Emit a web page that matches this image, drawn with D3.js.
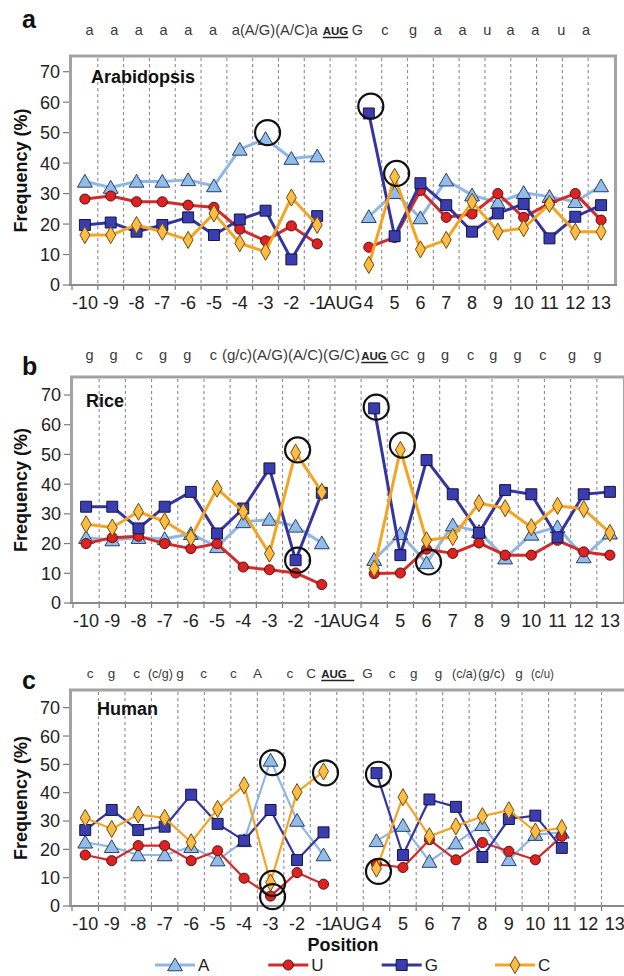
<!DOCTYPE html>
<html>
<head>
<meta charset="utf-8">
<script src="https://cdn.jsdelivr.net/npm/d3@7"></script>
<style>
  body { margin: 0; background: #fff; }
  svg { display: block; font-family: "Liberation Sans", Arial, sans-serif; }
</style>
</head>
<body>
<div id="chart"></div>
<script>
// positions on the x axis (AUG is an empty slot)
const categories = ["-10","-9","-8","-7","-6","-5","-4","-3","-2","-1","AUG","4","5","6","7","8","9","10","11","12","13"]
const yTicks = [0, 10, 20, 30, 40, 50, 60, 70]
const nucleotides = ["A", "U", "G", "C"]

// Arabidopsis
const arabA = [34, 32, 34, 34, 34.5, 32.5, 44.5, 48, 41.5, 42.3, null, 22.4, 30.3, 22, 34.4, 29.5, 27, 30.3, 29, 27.3, 32.5]
const arabU = [28.2, 29.2, 27.3, 27.3, 26.2, 25.5, 18.3, 14.5, 19.4, 13.5, null, 12.4, 15.6, 31, 22.2, 23.3, 30, 22.2, 26.8, 30, 21.3]
const arabG = [19.7, 20.5, 17.5, 19.7, 22.2, 16.4, 21.5, 24.4, 8.4, 22.6, null, 56.3, 16, 33.4, 26.2, 17.5, 23.5, 26.6, 15.3, 22.4, 26.2]
const arabC = [16.4, 16.4, 19.7, 17.5, 14.8, 23.5, 13.7, 10.9, 28.7, 19.7, null, 6.6, 35.5, 11.7, 14.8, 27.3, 17.5, 18.6, 26.6, 17.5, 17.5]
const arabRings = [["-3", 50], ["4", 58.7], ["5", 36.6]]
// consensus sequence above the panel: [token, slot]
const arabSeq = [["a",0],["a",1],["a",2],["a",3],["a",4],["a",5],["a(A/G)(A/C)a",7.5],["AUG",9.96],["G",10.85],["c",11.96],["g",13.1],["a",14.1],["a",15.1],["u",16.1],["a",17.05],["a",18.05],["u",19.1],["a",20.1]]

// Rice
const riceA = [22, 21.2, 22, 21.6, 23.3, 18.9, 27.3, 28.1, 25.8, 20.2, null, 14.6, 23.3, 13.5, 26.2, 24, 15.1, 23.1, 25.6, 15.5, 23.5]
const riceU = [20, 22, 22.5, 20, 18.3, 20, 12.1, 11.2, 10.1, 6.2, null, 9.9, 10.1, 18.1, 16.7, 20.2, 16.1, 16.1, 21.1, 17.2, 16.1]
const riceG = [32.4, 32.4, 25.1, 32.4, 37.4, 23.4, 31.8, 45.3, 14.4, 37.1, null, 65.5, 16.1, 48.1, 36.6, 23.6, 38, 36.6, 22.1, 36.6, 37.4]
const riceC = [26.5, 25.4, 30.7, 27.5, 22, 38.5, 30.7, 16.6, 50.6, 37.4, null, 11.6, 51.5, 21.1, 22.2, 33.6, 31.9, 25.5, 32.7, 31.6, 23.6]
const riceRings = [["-2", 51.5], ["-2", 14.4], ["4", 65.9], ["5", 53.1], ["6", 13.8]]
const riceSeq = [["g",0],["g",0.95],["c",1.95],["g",2.9],["g",3.85],["c",4.88],["(g/c)(A/G)(A/C)(G/C)",7.93],["AUG",11.2],["GC",12.22],["g",13.05],["g",14],["c",15],["g",15.9],["g",16.85],["c",17.85],["g",19],["g",20]]

// Human
const humanA = [22.5, 20.9, 18, 18, 20.9, 16.2, 23, 51.4, 30.2, 18, null, 23, 28.4, 15.7, 22.2, 28.7, 16.3, 25.2, 26, null, null]
const humanU = [18, 16, 21.3, 21.3, 16, 19.5, 9.8, 3.5, 11.8, 7.7, null, 14.8, 13.6, 23.4, 16.3, 22.4, 19.3, 16.3, 24.6, null, null]
const humanG = [26.8, 33.9, 26.8, 28, 39.3, 29, 23.1, 33.9, 16.2, 26, null, 46.9, 18, 37.6, 35, 17.3, 30.7, 31.9, 20.5, null, null]
const humanC = [31.1, 27.2, 32.3, 31.1, 22.5, 34.3, 42.6, 8.3, 40.2, 47.5, null, 13.2, 38.4, 24.6, 28.1, 31.7, 33.8, 26.3, 27.5, null, null]
const humanRings = [["-3", 50.6], ["-3", 8], ["-3", 3.3], ["-1", 47], ["4", 46.5], ["4", 12.2]]
const humanSeq = [["c",0],["g",0.86],["c",1.87],["(c/g)",2.83],["g",3.61],["c",4.56],["c",5.76],["A",6.73],["c",8.03],["C",8.88],["AUG",9.8],["G",11.14],["c",12.13],["g",13],["g",14],["(c/a)",15.04],["(g/c)",16.12],["g",17.23],["(c/u)",18.17]]

const w = 624
const h = 976

// series styling
const seriesStyle = {
	A: { line: "#8fb6e4", fill: "#93bde8", stroke: "#23406a", shape: d3.symbolTriangle, size: 95 },
	U: { line: "#d22b2b", fill: "#dd2222", stroke: "#5a1010", shape: d3.symbolCircle, size: 80 },
	G: { line: "#35359f", fill: "#3a3db0", stroke: "#15153f", shape: d3.symbolSquare, size: 120 },
	C: { line: "#f4a422", fill: "#fbbd45", stroke: "#6b4a0c", shape: d3.symbolDiamond, size: 85 },
}

// rendered widths of the wider sequence tokens, so they fit like the original
const seqWidths = {
	"a(A/G)(A/C)a": 86,
	"(g/c)(A/G)(A/C)(G/C)": 138,
	"(c/g)": 25,
	"(c/a)": 25,
	"(g/c)": 27,
	"(c/u)": 23,
}
// the start codon and the GC after it are set smaller
const seqSizes = { AUG: 11.5, GC: 12.5 }
const augWidth = 25.5

const panels = [
	{ letter: "a", name: "Arabidopsis", series: [arabA, arabU, arabG, arabC], rings: arabRings, seq: arabSeq,
	  x0: 72, x1: 614, yTop: 71.7, yBottom: 285, frameTop: 56, seqY: 35, seqX: [89.5, 583.5], seqSize: 14.5,
	  augLine: 25.5, letterY: 28, nameX: 91, nameY: 83, lw: 3 },
	{ letter: "b", name: "Rice", series: [riceA, riceU, riceG, riceC], rings: riceRings, seq: riceSeq,
	  x0: 73, x1: 623, yTop: 395, yBottom: 603, frameTop: 377, seqY: 360, seqX: [89.5, 597.5], seqSize: 14.5,
	  augLine: 27, letterY: 375, nameX: 86, nameY: 407, lw: 3 },
	{ letter: "c", name: "Human", series: [humanA, humanU, humanG, humanC], rings: humanRings, seq: humanSeq,
	  x0: 72, x1: 628, yTop: 707.7, yBottom: 906, frameTop: 690, seqY: 678, seqX: [90, 588], seqSize: 13.5,
	  augLine: 33, letterY: 689, nameX: 97, nameY: 715, lw: 2.2 },
]

const svg = d3
	.select("#chart")
	.append("svg")
	.attr("width", w)
	.attr("height", h)

panels.forEach(p => {
	const g = svg.append("g")

	const xScale = d3.scaleBand().domain(categories).range([p.x0, p.x1])
	const yScale = d3.scaleLinear().domain([0, 70]).range([p.yBottom, p.yTop])
	const cx = c => xScale(c) + xScale.bandwidth() / 2
	const seqScale = d3.scaleLinear().domain([0, 20]).range(p.seqX)

	// dashed gridlines between categories
	const bounds = categories.slice(1).map(c => xScale(c))
	g.selectAll(".grid")
		.data(bounds)
		.enter()
		.append("line")
		.attr("x1", d => d)
		.attr("x2", d => d)
		.attr("y1", p.frameTop + 2)
		.attr("y2", p.yBottom)
		.attr("stroke", "#8c8c8c")
		.attr("stroke-width", 1.1)
		.attr("stroke-dasharray", "3,3")

	// ticks under the axis
	g.selectAll(".xtick")
		.data([p.x0].concat(bounds))
		.enter()
		.append("line")
		.attr("x1", d => d)
		.attr("x2", d => d)
		.attr("y1", p.yBottom)
		.attr("y2", p.yBottom + 5)
		.attr("stroke", "#7a7a7a")
		.attr("stroke-width", 1.2)

	// frame
	g.append("path")
		.attr("d", `M${p.x0 - 1.5},${p.yBottom} V${p.frameTop} H${p.x1 + 1.5} V${p.yBottom}`)
		.attr("fill", "none")
		.attr("stroke", "#a3a3a3")
		.attr("stroke-width", 3)
	g.append("line")
		.attr("x1", p.x0 - 3)
		.attr("x2", p.x1 + 3)
		.attr("y1", p.yBottom)
		.attr("y2", p.yBottom)
		.attr("stroke", "#8a8a8a")
		.attr("stroke-width", 2)

	// y axis
	g.selectAll(".ytick")
		.data(yTicks)
		.enter()
		.append("line")
		.attr("x1", p.x0 - 9)
		.attr("x2", p.x0 - 3)
		.attr("y1", d => yScale(d))
		.attr("y2", d => yScale(d))
		.attr("stroke", "#7a7a7a")
		.attr("stroke-width", 1.2)
	g.selectAll(".ylab")
		.data(yTicks)
		.enter()
		.append("text")
		.attr("x", p.x0 - 12)
		.attr("y", d => yScale(d))
		.attr("dy", "0.36em")
		.attr("text-anchor", "end")
		.attr("font-size", 18)
		.attr("fill", "#222")
		.text(d => d)

	g.append("text")
		.attr("transform", `translate(21, ${(p.frameTop + p.yBottom) / 2}) rotate(-90)`)
		.attr("dy", "0.35em")
		.attr("text-anchor", "middle")
		.attr("font-size", 18)
		.attr("font-weight", "bold")
		.attr("fill", "#111")
		.text("Frequency (%)")

	// x labels
	g.selectAll(".xlab")
		.data(categories)
		.enter()
		.append("text")
		.attr("x", d => cx(d))
		.attr("y", p.yBottom + 18)
		.attr("dy", "0.35em")
		.attr("text-anchor", "middle")
		.attr("font-size", 18)
		.attr("fill", "#222")
		.text(d => d)

	// panel letter, species, sequence
	g.append("text")
		.attr("x", 22)
		.attr("y", p.letterY)
		.attr("font-size", 25)
		.attr("font-weight", "bold")
		.attr("fill", "#111")
		.text(p.letter)

	g.append("text")
		.attr("x", p.nameX)
		.attr("y", p.nameY)
		.attr("font-size", 18)
		.attr("font-weight", "bold")
		.attr("fill", "#111")
		.text(p.name)

	const seqText = g.selectAll(".seq")
		.data(p.seq)
		.enter()
		.append("text")
		.attr("x", d => seqScale(d[1]))
		.attr("y", p.seqY)
		.attr("text-anchor", "middle")
		.attr("font-size", d => seqSizes[d[0]] || p.seqSize)
		.attr("fill", d => (d[0] === "AUG" ? "#222" : "#3a3a3a"))
		.attr("font-weight", d => (d[0] === "AUG" ? "bold" : "normal"))
		.text(d => d[0])
	seqText.filter(d => seqWidths[d[0]])
		.attr("textLength", d => seqWidths[d[0]])
		.attr("lengthAdjust", "spacingAndGlyphs")

	// underline of the start codon
	const aug = p.seq.find(d => d[0] === "AUG")
	const augLeft = seqScale(aug[1]) - augWidth / 2
	g.append("line")
		.attr("x1", augLeft)
		.attr("x2", augLeft + p.augLine)
		.attr("y1", p.seqY + 2.5)
		.attr("y2", p.seqY + 2.5)
		.attr("stroke", "#222")
		.attr("stroke-width", 1.5)

	// series: line then markers
	p.series.forEach((vals, si) => {
		const st = seriesStyle[nucleotides[si]]
		const pts = categories.map((c, i) => ({ c, v: vals[i] }))
		const line = d3
			.line()
			.defined(d => d.v !== null)
			.x(d => cx(d.c))
			.y(d => yScale(d.v))
		g.append("path")
			.datum(pts)
			.attr("d", line)
			.attr("fill", "none")
			.attr("stroke", st.line)
			.attr("stroke-width", p.lw)
			.attr("stroke-linejoin", "round")

		const sym = d3.symbol().type(st.shape).size(st.size)
		g.selectAll(".m" + si)
			.data(pts.filter(d => d.v !== null))
			.enter()
			.append("path")
			.attr("d", sym)
			.attr("transform", d => `translate(${cx(d.c)}, ${yScale(d.v) + (st.shape === d3.symbolTriangle ? 1.5 : 0)})`)
			.attr("fill", st.fill)
			.attr("stroke", st.stroke)
			.attr("stroke-width", 1)
	})

	// highlight rings
	g.selectAll(".ring")
		.data(p.rings)
		.enter()
		.append("circle")
		.attr("cx", d => cx(d[0]) + 2)
		.attr("cy", d => yScale(d[1]))
		.attr("r", 12.5)
		.attr("fill", "none")
		.attr("stroke", "#111")
		.attr("stroke-width", 2.2)
})

// x axis title
svg.append("text")
	.attr("x", 343)
	.attr("y", 945)
	.attr("dy", "0.35em")
	.attr("text-anchor", "middle")
	.attr("font-size", 18)
	.attr("font-weight", "bold")
	.attr("fill", "#111")
	.text("Position")

// legend
const legScale = d3.scalePoint().domain(nucleotides).range([155, 495])
const legend = svg.append("g").attr("transform", "translate(0, 965)")
nucleotides.forEach(n => {
	const st = seriesStyle[n]
	const lx = legScale(n)
	legend.append("line")
		.attr("x1", lx)
		.attr("x2", lx + 40)
		.attr("stroke", st.line)
		.attr("stroke-width", 3)
	legend.append("path")
		.attr("d", d3.symbol().type(st.shape).size(st.size)())
		.attr("transform", `translate(${lx + 20}, ${st.shape === d3.symbolTriangle ? 1.5 : 0})`)
		.attr("fill", st.fill)
		.attr("stroke", st.stroke)
		.attr("stroke-width", 1)
	legend.append("text")
		.attr("x", lx + 43)
		.attr("dy", "0.36em")
		.attr("font-size", 17)
		.attr("fill", "#222")
		.text(n)
})
</script>
</body>
</html>
